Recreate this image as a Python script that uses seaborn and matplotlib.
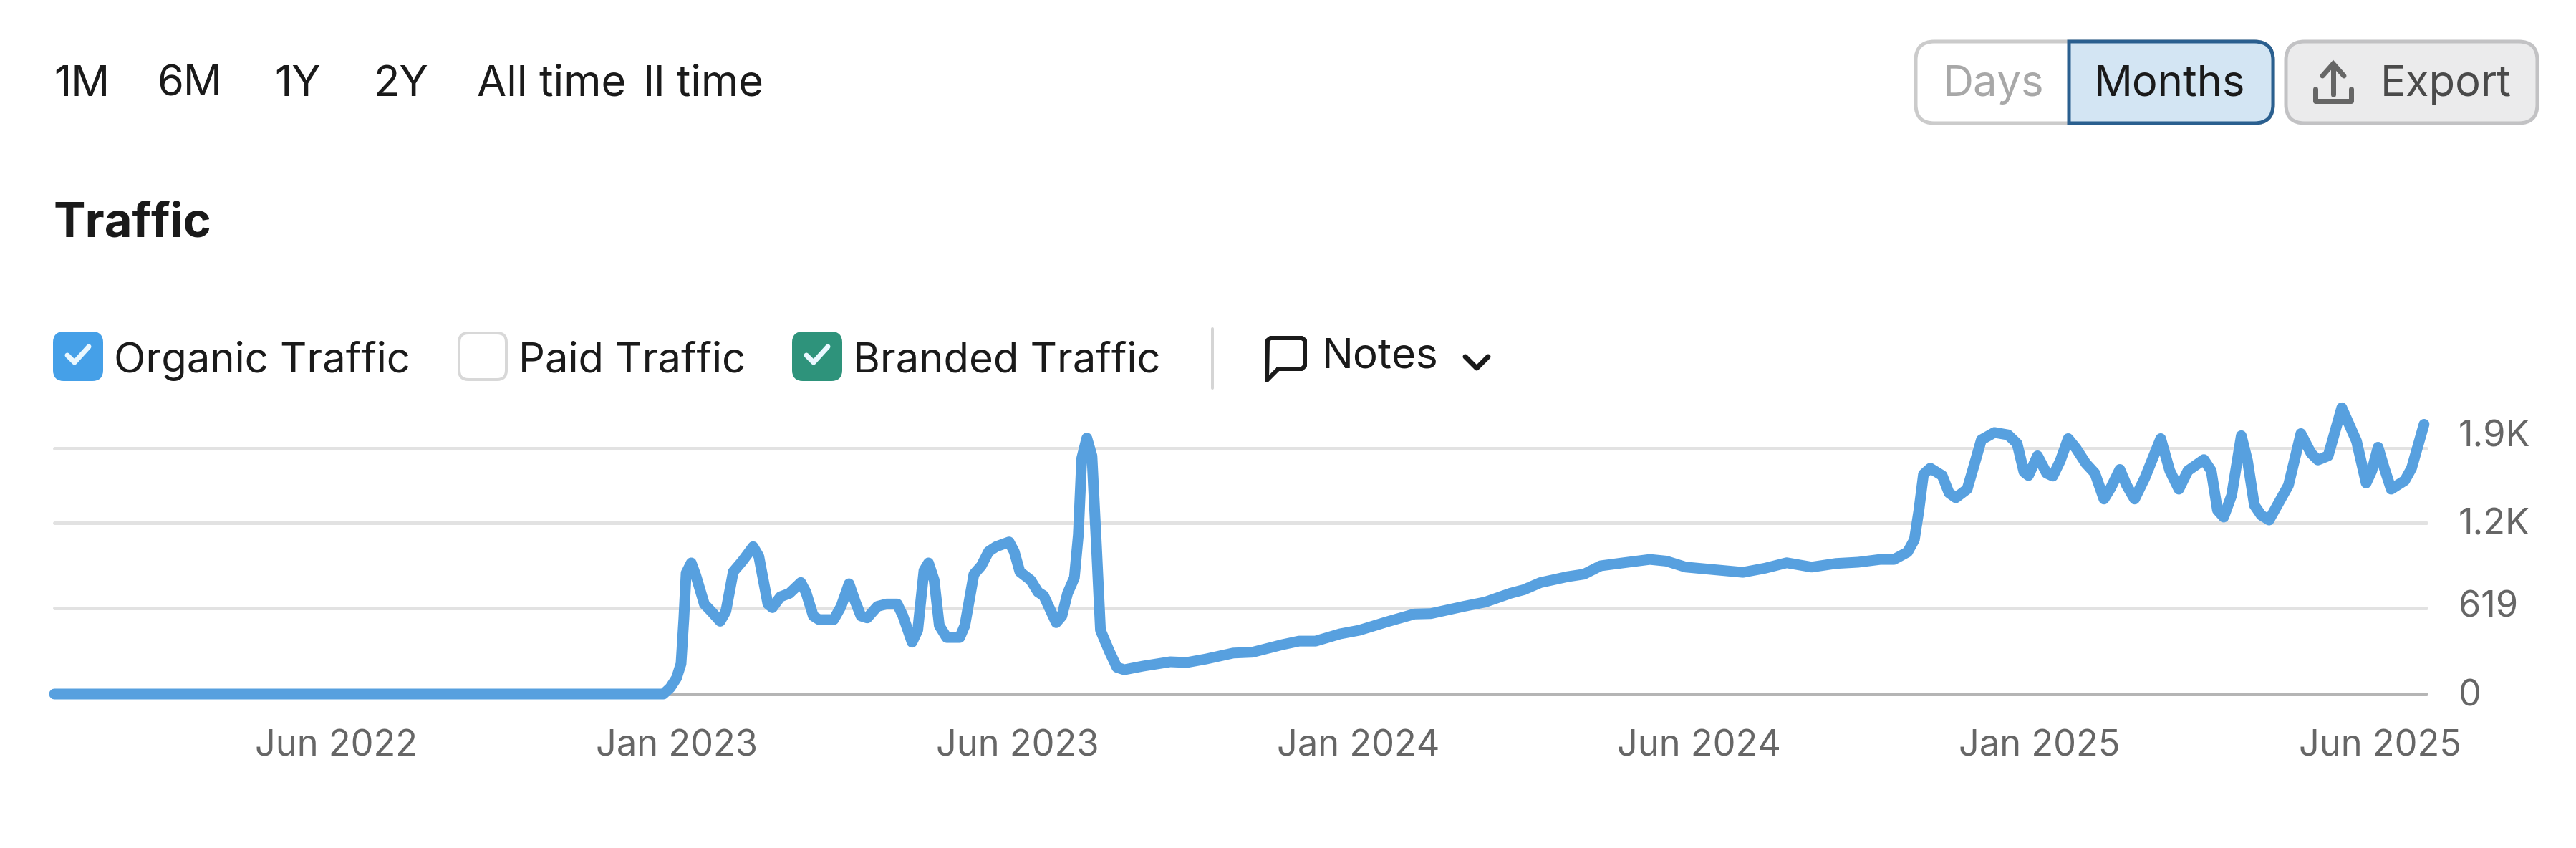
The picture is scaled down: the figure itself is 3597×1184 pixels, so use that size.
import numpy as np
import pandas as pd
import matplotlib
matplotlib.use("Agg")
import matplotlib.pyplot as plt
import seaborn as sns
from matplotlib.patches import FancyBboxPatch, PathPatch
from matplotlib.path import Path
from matplotlib.transforms import ScaledTranslation

# month slots on the chart axis (the axis is evenly spaced between its labels)
months = [
    0, 10.73, 10.85, 10.96, 11.04, 11.09, 11.13, 11.22, 11.30, 11.45, 11.57, 11.73, 11.83, 11.96,
    12.12, 12.31, 12.41, 12.57, 12.65, 12.79, 12.95, 13.15, 13.24, 13.37, 13.47, 13.73, 13.86, 14.00,
    14.11, 14.21, 14.32, 14.50, 14.66, 14.85, 14.95, 15.11, 15.21, 15.32, 15.40, 15.50, 15.59, 15.72,
    15.95, 16.04, 16.20, 16.33, 16.46, 16.59, 16.82, 16.91, 17.01, 17.20, 17.33, 17.43, 17.65, 17.75,
    17.85, 17.97, 18.04, 18.10, 18.19, 18.28, 18.36, 18.43, 18.59, 18.72, 18.85, 19.18, 19.66, 19.95,
    20.29, 20.77, 21.11, 21.64, 21.93, 22.22, 22.65, 22.99, 23.47, 23.96, 24.25, 24.83, 25.21, 25.65,
    25.89, 26.18, 26.66, 26.95, 27.24, 27.63, 28.11, 28.40, 28.74, 29.27, 29.75, 30.14, 30.52, 30.96,
    31.39, 31.78, 32.17, 32.41, 32.65, 32.77, 32.85, 32.93, 33.05, 33.26, 33.38, 33.50, 33.70, 33.82,
    33.95, 34.18, 34.42, 34.58, 34.70, 34.78, 34.94, 35.10, 35.21, 35.34, 35.48, 35.62, 35.79, 35.95,
    36.11, 36.23, 36.39, 36.51, 36.65, 36.83, 37.11, 37.27, 37.43, 37.59, 37.87, 38.00, 38.11, 38.22,
    38.36, 38.53, 38.64, 38.76, 38.88, 39.02, 39.36, 39.58, 39.76, 39.88, 40.06, 40.30, 40.56, 40.73,
    40.83, 40.94, 41.05, 41.17, 41.41, 41.53, 41.75,
]
organic = [
    0, 0, 46, 115, 218, 545, 871, 944, 854, 648, 596, 524, 596, 880,
    957, 1061, 992, 648, 622, 700, 725, 803, 734, 562, 536, 536, 631, 794,
    665, 562, 548, 631, 648, 648, 562, 373, 459, 889, 944, 820, 493, 407,
    407, 493, 863, 923, 1026, 1061, 1095, 1026, 880, 820, 734, 708, 514, 562,
    725, 837, 1146, 1697, 1843, 1714, 1060, 459, 304, 192, 175, 201, 232, 227,
    252, 295, 301, 356, 381, 381, 433, 459, 519, 576, 579, 631, 662, 725,
    751, 802, 845, 863, 923, 944, 969, 957, 914, 894, 876, 906, 945, 914,
    940, 949, 969, 969, 1022, 1111, 1324, 1582, 1626, 1573, 1448, 1413, 1475, 1644,
    1830, 1883, 1866, 1803, 1599, 1573, 1715, 1590, 1569, 1679, 1839, 1768, 1661, 1590,
    1404, 1484, 1617, 1502, 1404, 1555, 1839, 1608, 1475, 1608, 1688, 1608, 1324, 1274,
    1431, 1860, 1679, 1360, 1288, 1253, 1502, 1875, 1733, 1685, 1715, 2061, 1821, 1519,
    1608, 1777, 1626, 1475, 1537, 1626, 1942,
]

x_ticks = [4.97, 10.97, 16.97, 22.97, 28.97, 34.97, 40.97]
x_labels = ["Jun 2022", "Jan 2023", "Jun 2023", "Jan 2024", "Jun 2024", "Jan 2025", "Jun 2025"]
y_ticks = [0, 619, 1232, 1769]
y_labels = ["0", "619", "1.2K", "1.9K"]
y_label_lift = [2, 6, 2, 21]  # labels sit a bit above their gridlines

range_labels = ["1M", "6M", "1Y", "2Y", "All time", "ll time"]
range_left = [75, 220, 383, 522, 666, 899]
legend_labels = ["Organic Traffic", "Paid Traffic", "Branded Traffic"]
legend_left = [76, 641, 1108]
legend_fill = ["#45A0E8", "#FFFFFF", "#2E937B"]

W, H = 3598, 1184
DPI = 200
px = 72 / DPI  # one pixel in points

sns.set_theme(style="white")
plt.rcParams["font.family"] = ["Inter", "DejaVu Sans"]

fig = plt.figure(figsize=(W / DPI, H / DPI), dpi=DPI, facecolor="white")

# pixel canvas for the buttons and checkboxes around the chart
ui = fig.add_axes([0, 0, 1, 1])
ui.set_xlim(0, W)
ui.set_ylim(H, 0)
ui.axis("off")


def box(x0, y0, x1, y1, face, edge, lw=5, r=20):
    ui.add_patch(FancyBboxPatch((x0 + r, y0 + r), x1 - x0 - 2 * r, y1 - y0 - 2 * r,
                                boxstyle=f"round,pad={r},rounding_size={r}",
                                fc=face, ec=edge, lw=lw * px))


# time range row
for lab, left in zip(range_labels, range_left):
    ui.text(left, 118, lab, fontsize=21.5, color="#1a1a1a", va="center", ha="left")
ui.text(75, 313, "Traffic", fontsize=24, fontweight="bold", color="#1a1a1a", va="center", ha="left")

# Days / Months toggle
box(2675, 58, 3174, 172, "white", "#CBCBCB", r=26)
r = 26
verts = [(2889, 58), (3174 - r, 58), (3174, 58), (3174, 58 + r), (3174, 172 - r), (3174, 172),
         (3174 - r, 172), (2889, 172), (2889, 58)]
codes = [Path.MOVETO, Path.LINETO, Path.CURVE3, Path.CURVE3, Path.LINETO, Path.CURVE3, Path.CURVE3,
         Path.LINETO, Path.CLOSEPOLY]
ui.add_patch(PathPatch(Path(verts, codes), fc="#D3E5F3", ec="#2A5F8F", lw=5 * px))
ui.text(2784, 118, "Days", fontsize=21.5, color="#A8A8A8", ha="center", va="center")
ui.text(3030, 118, "Months", fontsize=21.5, color="#1a1a1a", ha="center", va="center")

# Export button
box(3192, 58, 3543, 172, "#EBEBEC", "#C2C2C4", r=26)
ui.text(3415, 118, "Export", fontsize=21.5, color="#4a4a4a", ha="center", va="center")
ui.plot([3258, 3258], [92, 132], color="#666666", lw=7 * px)
ui.plot([3243, 3258, 3273], [106, 89, 106], color="#666666", lw=7 * px, solid_joinstyle="miter")
ui.plot([3233, 3233, 3283, 3283], [124, 141, 141, 124], color="#666666", lw=7 * px)

# legend checkboxes
for lab, left, fill in zip(legend_labels, legend_left, legend_fill):
    edge = "#D8D8D8" if fill == "#FFFFFF" else fill
    box(left, 465, left + 66, 530, fill, edge, lw=4, r=13)
    if fill != "#FFFFFF":
        ui.plot([left + 18, left + 28, left + 48], [496, 506, 484], color="#EAF8FF", lw=7 * px,
                solid_capstyle="round", solid_joinstyle="round")
    ui.text(left + 83, 504, lab, fontsize=20.85, color="#1a1a1a", va="center", ha="left")

ui.plot([1693, 1693], [459, 542], color="#D5D5D5", lw=4 * px)

# Notes bubble and chevron
ui.plot([1785, 1769, 1770, 1774, 1818, 1822, 1822, 1818, 1785],
        [515, 531, 475, 472, 472, 475, 511, 515, 515],
        color="#1a1a1a", lw=6 * px, solid_joinstyle="round")
ui.text(1846, 499, "Notes", fontsize=21, color="#1a1a1a", va="center", ha="left")
ui.plot([2046, 2062, 2078], [498, 514, 498], color="#1a1a1a", lw=7 * px,
        solid_capstyle="round", solid_joinstyle="round")

# the chart itself
ax = fig.add_axes([76 / W, 1 - 969 / H, (3388 - 76) / W, (969 - 560) / H])
ax.patch.set_alpha(0)
df = pd.DataFrame({"month": months, "organic": organic})
sns.lineplot(data=df, x="month", y="organic", ax=ax, color="#57A0DF", linewidth=15 * px, clip_on=False,
             solid_capstyle="round", solid_joinstyle="round", estimator=None, sort=False, zorder=5)

ax.set_xlim(0, 41.79)
ax.set_ylim(0, 409 / 0.1939)
ax.set_xlabel("")
ax.set_ylabel("")
sns.despine(ax=ax, left=True, right=True, top=True, bottom=True)

ax.set_xticks(x_ticks, x_labels)
ax.yaxis.tick_right()
ax.set_yticks(y_ticks, y_labels)
ax.tick_params(axis="x", length=0, pad=50 * px, labelsize=18.2, labelcolor="#666666")
ax.tick_params(axis="y", length=0, pad=45 * px, labelsize=18.2, labelcolor="#666666")
for lab, lift in zip(ax.get_yticklabels(), y_label_lift):
    lab.set_transform(lab.get_transform() + ScaledTranslation(0, lift / DPI, fig.dpi_scale_trans))

for val in y_ticks:
    ax.axhline(val, color="#B5B5B5" if val == 0 else "#E2E2E2", lw=5 * px, clip_on=False, zorder=1)

fig.savefig("out.png", dpi=DPI, facecolor="white")
